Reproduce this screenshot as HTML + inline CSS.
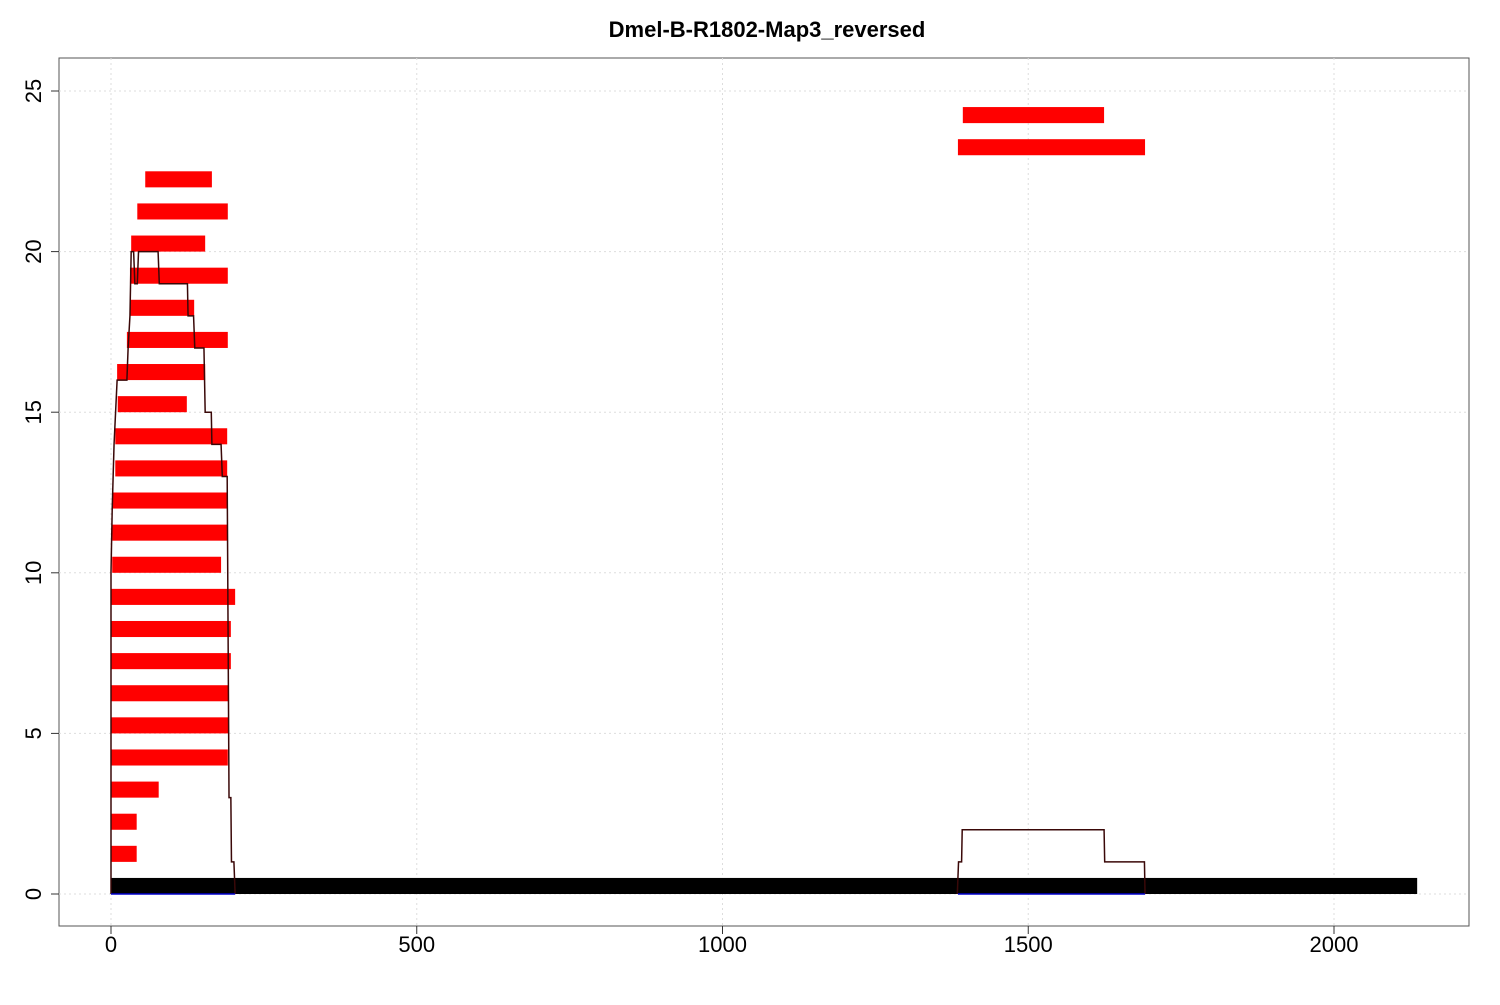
<!DOCTYPE html>
<html><head><meta charset="utf-8"><style>
body{margin:0;background:#fff;width:1500px;height:1000px;overflow:hidden}
svg{font-family:"Liberation Sans",sans-serif}
</style></head><body>
<svg id="chart" width="1500" height="1000">
<text x="767" y="37" text-anchor="middle" font-size="22" font-weight="bold">Dmel-B-R1802-Map3_reversed</text>
<rect x="59" y="58" width="1410" height="868" fill="none" stroke="#555" stroke-width="1"/>
<g id="grid"></g><g id="bars"></g><g id="lines"></g><g id="axes"></g>
</svg>
<script>
const xTicks=[0,500,1000,1500,2000];
const yTicks=[0,5,10,15,20,25];
const readLevels=[1,2,3,4,5,6,7,8,9,10,11,12,13,14,15,16,17,18,19,20,21,22,23,24];
const readStarts=[0,0,0,0,0,0,0,0,0,2,2,3,7,7,11,10,26,31,31,33,43,56,1385,1393];
const readEnds=[42,42,78,191,193,193,196,196,203,180,191,191,190,190,124,154,191,136,191,154,191,165,1691,1624];
const refStart=0, refEnd=2136;
const covX=[0,0,2,5,10,26,28,31,33,37,39,43,45,77,79,125,126,135,137,152,154,164,165,180,182,190,193,196,197,201,203];
const covY=[0,10,12,14,16,16,17,18,20,20,19,19,20,20,19,19,18,18,17,17,15,15,14,14,13,13,3,3,1,1,0];
const cov2X=[1384,1386,1391,1392,1624,1625,1690,1691];
const cov2Y=[0,1,1,2,2,1,1,0];
const blueX=[[0,203],[1385,1691]];
const sx=v=>111+v*(1223/2000);
const sy=v=>894-v*(803/25);
const NS="http://www.w3.org/2000/svg";
function mk(tag,attrs,parent){const e=document.createElementNS(NS,tag);for(const k in attrs)e.setAttribute(k,attrs[k]);parent.appendChild(e);return e;}
const grid=document.getElementById('grid'),bars=document.getElementById('bars'),lines=document.getElementById('lines'),axes=document.getElementById('axes');
xTicks.forEach(t=>{
 const g=mk('line',{x1:sx(t),x2:sx(t),y1:58,y2:926,stroke:'#ddd','stroke-dasharray':'2,3'},grid);
 
 
 const tk=mk('line',{x1:sx(t),x2:sx(t),y1:926,y2:934,stroke:'#333'},axes);
 
 
 const l=mk('text',{x:sx(t),y:952,'text-anchor':'middle','font-size':'22'},axes);l.textContent=t;
 
 
});
yTicks.forEach(t=>{
 const g=mk('line',{x1:59,x2:1469,y1:sy(t),y2:sy(t),stroke:'#ddd','stroke-dasharray':'2,3'},grid);
 
 
 const tk=mk('line',{x1:51,x2:59,y1:sy(t),y2:sy(t),stroke:'#333'},axes);
 
 
 const l=mk('text',{x:41,y:sy(t),'text-anchor':'middle','font-size':'22',transform:`rotate(-90 41 ${sy(t)})`},axes);l.textContent=t;
 
 
});
readLevels.forEach((lv,i)=>{
 const r=mk('rect',{x:sx(readStarts[i]),y:sy(lv+0.5),width:sx(readEnds[i])-sx(readStarts[i]),height:sy(lv)-sy(lv+0.5),fill:'#ff0000'},bars);
 
 
});
const ref=mk('rect',{x:sx(refStart),y:sy(0.5),width:sx(refEnd)-sx(refStart),height:sy(0)-sy(0.5),fill:'#000'},bars);


function poly(xs,ys,name){
 const p=mk('polyline',{points:xs.map((x,i)=>sx(x)+','+sy(ys[i])).join(' '),fill:'none',stroke:'#3a0808','stroke-width':'1.5'},lines);
 
 
}
poly(covX,covY,'coverage-line-left');
poly(cov2X,cov2Y,'coverage-line-right');
blueX.forEach(b=>{
 const l=mk('line',{x1:sx(b[0]),x2:sx(b[1]),y1:sy(0),y2:sy(0),stroke:'#0000cc','stroke-width':'1.5'},lines);
 
 
});
</script>
</body></html>
